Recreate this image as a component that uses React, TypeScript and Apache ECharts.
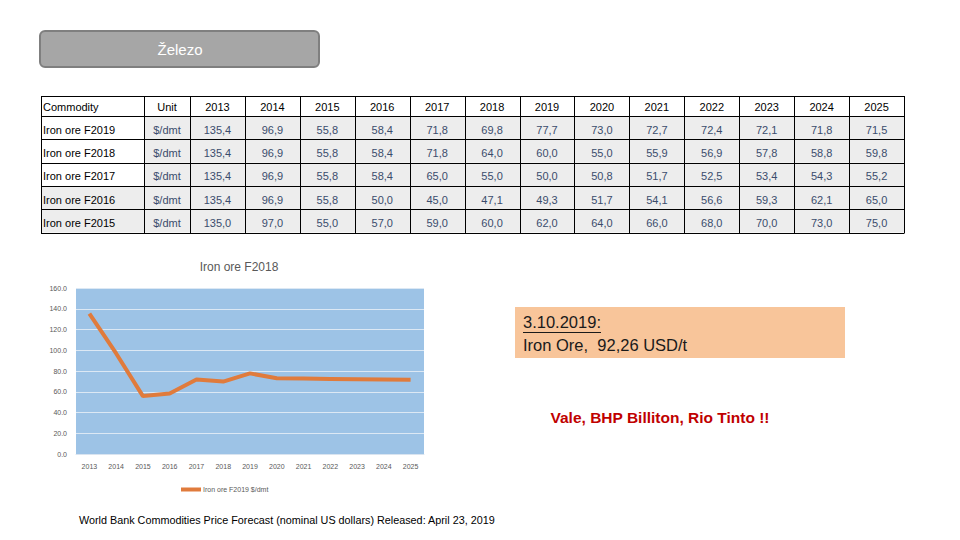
import React, { useEffect, useRef } from "react";
import * as echarts from "echarts";

const years = ["2013","2014","2015","2016","2017","2018","2019","2020","2021","2022","2023","2024","2025"];
const commodities = ["Iron ore F2019","Iron ore F2018","Iron ore F2017","Iron ore F2016","Iron ore F2015"];
const unit = "$/dmt";
const f2019 = [135.4, 96.9, 55.8, 58.4, 71.8, 69.8, 77.7, 73.0, 72.7, 72.4, 72.1, 71.8, 71.5];
const f2018 = [135.4, 96.9, 55.8, 58.4, 71.8, 64.0, 60.0, 55.0, 55.9, 56.9, 57.8, 58.8, 59.8];
const f2017 = [135.4, 96.9, 55.8, 58.4, 65.0, 55.0, 50.0, 50.8, 51.7, 52.5, 53.4, 54.3, 55.2];
const f2016 = [135.4, 96.9, 55.8, 50.0, 45.0, 47.1, 49.3, 51.7, 54.1, 56.6, 59.3, 62.1, 65.0];
const f2015 = [135.0, 97.0, 55.0, 57.0, 59.0, 60.0, 62.0, 64.0, 66.0, 68.0, 70.0, 73.0, 75.0];
const tableRows = [f2019, f2018, f2017, f2016, f2015];
const grayCommodityRows = [false, false, false, true, true];
const chartTitle = "Iron ore F2018";
const seriesName = "Iron ore F2019 $/dmt";
const slideTitle = "Železo";
const noteDate = "3.10.2019:";
const noteText = "Iron Ore,  92,26 USD/t";
const companies = "Vale, BHP Billiton, Rio Tinto !!";
const footer = "World Bank Commodities Price Forecast (nominal US dollars) Released: April 23, 2019";

const FONT = "Liberation Sans, Arial, sans-serif";
const fmt = (v: number) => v.toFixed(1).replace(".", ",");

function buildTable(): any[] {
  const els: any[] = [];
  const x0 = 41, xC = 144, xU = 190, x1 = 904;
  const colW = (x1 - xU) / years.length;
  const y0 = 96, yH = 116;
  const rowH = (232.5 - yH) / commodities.length;
  commodities.forEach((_, r) => {
    const ry = yH + r * rowH;
    const sx = grayCommodityRows[r] ? x0 : xC;
    els.push({ type: "rect", shape: { x: sx, y: ry, width: x1 - sx, height: rowH }, style: { fill: "#ededed" }, silent: true });
  });
  els.push({ type: "text", x: x0 + 2, y: (y0 + yH) / 2 + 1, style: { text: "Commodity", font: `11px ${FONT}`, fill: "#000", verticalAlign: "middle", textAlign: "left" } });
  els.push({ type: "text", x: (xC + xU) / 2, y: (y0 + yH) / 2 + 1, style: { text: "Unit", font: `11px ${FONT}`, fill: "#000", verticalAlign: "middle", textAlign: "center" } });
  years.forEach((yr, i) => {
    els.push({ type: "text", x: xU + colW * (i + 0.5), y: (y0 + yH) / 2 + 1, style: { text: yr, font: `11px ${FONT}`, fill: "#000", verticalAlign: "middle", textAlign: "center" } });
  });
  commodities.forEach((c, r) => {
    const cy = yH + r * rowH + rowH / 2 + 2;
    els.push({ type: "text", x: x0 + 2, y: cy, style: { text: c, font: `11px ${FONT}`, fill: "#000", verticalAlign: "middle", textAlign: "left" } });
    els.push({ type: "text", x: (xC + xU) / 2, y: cy, style: { text: unit, font: `11px ${FONT}`, fill: "#3a4c6c", verticalAlign: "middle", textAlign: "center" } });
    tableRows[r].forEach((v, i) => {
      els.push({ type: "text", x: xU + colW * (i + 0.5), y: cy, style: { text: fmt(v), font: `11px ${FONT}`, fill: "#3a4c6c", verticalAlign: "middle", textAlign: "center" } });
    });
  });
  const hs = [y0, yH];
  for (let r = 1; r <= commodities.length; r++) hs.push(yH + r * rowH);
  hs.forEach((y) => {
    const yy = Math.round(y) + 0.5;
    els.push({ type: "line", shape: { x1: x0, y1: yy, x2: x1, y2: yy }, style: { stroke: "#000", lineWidth: 1 }, silent: true });
  });
  const vs = [x0, xC, xU];
  for (let i = 1; i <= years.length; i++) vs.push(xU + i * colW);
  vs.forEach((x) => {
    const xx = Math.round(x) + 0.5;
    els.push({ type: "line", shape: { x1: xx, y1: y0, x2: xx, y2: Math.round(hs[hs.length - 1]) + 0.5 }, style: { stroke: "#000", lineWidth: 1 }, silent: true });
  });
  return els;
}

export default function App() {
  const ref = useRef<HTMLDivElement>(null);
  useEffect(() => {
    if (!ref.current) return;
    const chart = echarts.init(ref.current, null, { renderer: "svg" });
    const graphics: any[] = [
      { type: "rect", shape: { x: 40, y: 31, width: 279, height: 36, r: 5 }, style: { fill: "#a6a6a6", stroke: "#7f7f7f", lineWidth: 2 } },
      { type: "text", x: 180, y: 49, style: { text: slideTitle, font: `15px ${FONT}`, fill: "#ffffff", textAlign: "center", verticalAlign: "middle" } },
      ...buildTable(),
      { type: "text", x: 239, y: 267, style: { text: chartTitle, font: `12px ${FONT}`, fill: "#595959", textAlign: "center", verticalAlign: "middle" } },
      { type: "rect", shape: { x: 515, y: 307, width: 330, height: 51 }, style: { fill: "#f8c59a" } },
      { type: "text", x: 523, y: 322, style: { text: noteDate, font: `16.5px ${FONT}`, fill: "#1a1a1a", textAlign: "left", verticalAlign: "middle" } },
      { type: "line", shape: { x1: 523, y1: 332.5, x2: 601, y2: 332.5 }, style: { stroke: "#1a1a1a", lineWidth: 1 } },
      { type: "text", x: 523, y: 345, style: { text: noteText, font: `16.5px ${FONT}`, fill: "#1a1a1a", textAlign: "left", verticalAlign: "middle" } },
      { type: "text", x: 660, y: 417, style: { text: companies, font: `bold 15.5px ${FONT}`, fill: "#c00000", textAlign: "center", verticalAlign: "middle" } },
      { type: "text", x: 79, y: 520, style: { text: footer, font: `10.8px ${FONT}`, fill: "#000", textAlign: "left", verticalAlign: "middle" } },
    ];
    chart.setOption({
      animation: false,
      backgroundColor: "#ffffff",
      grid: { left: 76, top: 288, width: 348, height: 166, show: true, backgroundColor: "#9dc3e6", borderWidth: 0, containLabel: false },
      legend: {
        data: [seriesName], left: 176, top: 481, itemWidth: 20, itemHeight: 4, icon: "rect", itemGap: 4,
        textStyle: { fontSize: 7, color: "#595959", fontFamily: FONT, padding: [0, 0, 0, -3] },
      },
      xAxis: {
        type: "category", data: years, boundaryGap: true,
        axisLine: { show: true, lineStyle: { color: "#d9e4f0" } }, axisTick: { show: false },
        axisLabel: { fontSize: 7, color: "#595959", margin: 9, interval: 0, fontFamily: FONT },
      },
      yAxis: {
        type: "value", min: 0, max: 160, interval: 20,
        axisLine: { show: false }, axisTick: { show: false },
        splitLine: { lineStyle: { color: "#dce8f4", width: 1 } },
        axisLabel: { fontSize: 7, color: "#595959", margin: 9, formatter: (v: number) => v.toFixed(1), fontFamily: FONT },
      },
      series: [{
        name: seriesName, type: "line", data: f2019, symbol: "none",
        lineStyle: { color: "#e07b3c", width: 4 }, itemStyle: { color: "#e07b3c" },
      }],
      graphic: graphics,
    });
    return () => chart.dispose();
  }, []);
  return <div ref={ref} style={{ position: "fixed", left: 0, top: 0, width: 960, height: 540 }} />;
}
